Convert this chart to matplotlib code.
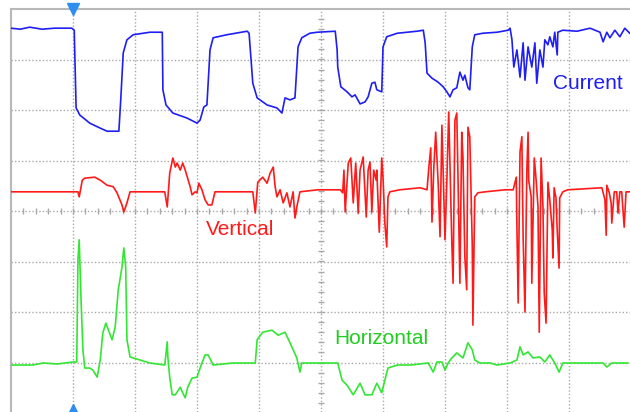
import matplotlib
matplotlib.use("Agg")
import matplotlib.pyplot as plt
import numpy as np

# scope traces, time and amplitude in screen divisions
t_current = [0, 0.15, 0.3, 0.5, 0.7, 0.98, 1.02, 1.05, 1.11, 1.27, 1.44, 1.55, 1.74, 1.77, 1.81, 1.87,
             1.97, 2.24, 2.44, 2.45, 2.50, 2.61, 2.84, 3.00, 3.05, 3.11, 3.16, 3.21, 3.26, 3.48,
             3.81, 3.84, 3.90, 3.97, 4.13, 4.29, 4.37, 4.42, 4.50, 4.58, 4.63, 4.69, 4.82, 4.94,
             5.23, 5.26, 5.27, 5.32, 5.42, 5.50, 5.55, 5.63, 5.71, 5.76, 5.82, 5.87, 5.90, 5.98,
             6.00, 6.06, 6.23, 6.55, 6.65, 6.68, 6.71, 6.79, 6.89, 6.97, 7.03, 7.08, 7.13, 7.19,
             7.24, 7.29, 7.32, 7.37, 7.40, 7.44, 7.48, 7.61, 7.84, 8.02, 8.05, 8.08, 8.11, 8.16,
             8.21, 8.26, 8.29, 8.34, 8.40, 8.45, 8.48, 8.53, 8.58, 8.61, 8.66, 8.69, 8.74, 8.77,
             8.81, 8.82, 8.90, 9.13, 9.34, 9.50, 9.55, 9.61, 9.66, 9.74, 9.82, 9.90, 9.98]
current = [3.62, 3.60, 3.64, 3.60, 3.62, 3.62, 3.58, 2.04, 1.90, 1.74, 1.64, 1.58, 1.58, 2.20, 3.13, 3.39,
           3.49, 3.54, 3.54, 2.40, 2.10, 1.94, 1.84, 1.74, 1.80, 2.06, 2.10, 3.19, 3.43, 3.49,
           3.56, 3.52, 2.53, 2.24, 2.10, 2.04, 1.94, 2.24, 2.20, 2.24, 3.25, 3.43, 3.52, 3.54,
           3.56, 3.19, 2.85, 2.46, 2.36, 2.26, 2.30, 2.12, 2.16, 2.26, 2.53, 2.55, 2.40, 2.36,
           3.25, 3.45, 3.52, 3.56, 3.58, 3.33, 2.73, 2.63, 2.55, 2.46, 2.36, 2.26, 2.40, 2.44,
           2.75, 2.59, 2.69, 2.44, 2.40, 3.25, 3.49, 3.52, 3.54, 3.58, 3.62, 3.39, 2.85, 3.19,
           2.65, 3.33, 2.59, 3.25, 2.85, 3.33, 2.53, 3.19, 2.85, 3.39, 3.29, 3.45, 3.25, 3.54,
           3.09, 3.54, 3.58, 3.56, 3.62, 3.54, 3.35, 3.54, 3.43, 3.58, 3.45, 3.62, 3.52]

t_vertical = [0, 0.5, 1.08, 1.10, 1.15, 1.19, 1.35, 1.44, 1.55, 1.65, 1.71, 1.79, 1.82, 1.87, 1.92,
              2.48, 2.52, 2.56, 2.61, 2.65, 2.68, 2.73, 2.77, 2.81, 2.89, 2.92, 2.97, 3.00, 3.03,
              3.08, 3.13, 3.18, 3.24, 3.29, 3.90, 3.94, 3.98, 4.06, 4.13, 4.18, 4.23, 4.26, 4.29,
              4.34, 4.39, 4.45, 4.50, 4.55, 4.58, 4.61, 4.66, 4.95, 5.31, 5.35, 5.37, 5.39, 5.44,
              5.48, 5.52, 5.56, 5.60, 5.63, 5.68, 5.73, 5.76, 5.79, 5.82, 5.85, 5.89, 5.90, 5.94,
              5.98, 6.00, 6.03, 6.06, 6.08, 6.11, 6.27, 6.60, 6.71, 6.74, 6.77, 6.79, 6.82, 6.85,
              6.89, 6.92, 6.95, 6.97, 7.00, 7.03, 7.06, 7.11, 7.13, 7.16, 7.19, 7.21, 7.24, 7.27,
              7.29, 7.32, 7.35, 7.37, 7.40, 7.44, 7.45, 7.48, 7.53, 7.65, 7.97, 8.10, 8.15, 8.16,
              8.18, 8.21, 8.24, 8.26, 8.29, 8.32, 8.34, 8.35, 8.39, 8.40, 8.44, 8.47, 8.50, 8.52,
              8.55, 8.58, 8.60, 8.63, 8.66, 8.69, 8.73, 8.74, 8.76, 8.79, 8.81, 8.84, 8.85, 8.90,
              8.98, 9.53, 9.58, 9.60, 9.61, 9.65, 9.68, 9.69, 9.73, 9.77, 9.79, 9.82, 9.85, 9.89,
              9.92, 9.98]
vertical = [0.38, 0.38, 0.38, 0.28, 0.61, 0.65, 0.67, 0.61, 0.51, 0.48, 0.36, 0.12, -0.02, 0.16, 0.38,
            0.38, 0.08, 0.75, 1.05, 0.87, 0.95, 0.81, 0.95, 0.81, 0.48, 0.32, 0.38, 0.36, 0.55,
            0.42, 0.22, 0.12, 0.12, 0.38, 0.38, -0.04, 0.57, 0.67, 0.55, 0.75, 0.87, 0.48, 0.28,
            0.42, 0.16, 0.36, 0.08, 0.38, -0.14, 0.08, 0.38, 0.42, 0.42, 0.36, 0.81, -0.02, 0.95,
            1.05, 0.16, 0.95, -0.04, 0.81, 1.07, -0.12, 0.81, 0.97, -0.02, 0.81, 0.61, 0.81, -0.42,
            1.05, 0.67, -0.24, -0.71, 0.28, 0.38, 0.42, 0.46, 0.42, 0.87, 1.25, -0.22, 0.87, 1.56,
            0.55, -0.51, 1.70, 0.77, -0.57, 0.61, 1.96, -0.63, -1.43, 1.80, 1.94, 0.65, -1.43, 1.56,
            1.05, -0.91, -1.56, 1.66, 1.47, -0.71, -2.26, 0.28, 0.36, 0.38, 0.42, 0.42, 0.67, -0.32,
            -1.82, 1.17, 1.47, -0.51, -2.00, 0.81, 1.56, 0.61, 0.28, -1.43, 1.05, 0.61, 0.08, -2.40,
            1.05, 0.08, -1.62, -2.22, 0.57, 0.22, -0.38, -0.93, 0.46, 0.26, -0.38, -1.13, 0.26, 0.38,
            0.42, 0.46, 0.22, -0.48, 0.51, 0.36, 0.16, -0.24, 0.38, 0.38, -0.04, 0.38, 0.38, -0.32,
            0.38, 0.38]

t_horizontal = [0, 0.35, 0.52, 0.75, 1.00, 1.06, 1.08, 1.10, 1.13, 1.16, 1.19, 1.27, 1.32, 1.39, 1.44,
                1.48, 1.53, 1.56, 1.63, 1.68, 1.73, 1.79, 1.82, 1.85, 1.87, 1.92, 2.08, 2.24, 2.48,
                2.52, 2.53, 2.56, 2.60, 2.65, 2.73, 2.77, 2.81, 2.85, 2.92, 3.00, 3.05, 3.13, 3.18,
                3.26, 3.58, 3.94, 3.97, 4.06, 4.21, 4.31, 4.42, 4.50, 4.61, 4.66, 4.69, 4.95, 5.27,
                5.34, 5.42, 5.52, 5.63, 5.71, 5.82, 5.90, 5.98, 6.03, 6.08, 6.23, 6.44, 6.73, 6.81,
                6.87, 6.95, 7.00, 7.05, 7.11, 7.19, 7.29, 7.37, 7.44, 7.48, 7.56, 7.73, 7.84, 8.05,
                8.16, 8.21, 8.26, 8.34, 8.42, 8.53, 8.61, 8.69, 8.77, 8.84, 8.90, 9.55, 9.61, 9.69,
                9.95]
horizontal = [-3.05, -3.05, -3.01, -3.03, -2.99, -2.99, -0.97, -0.57, -1.76, -2.75, -3.11, -3.11, -3.15, -3.29, -2.95,
              -2.42, -2.22, -2.32, -2.55, -2.30, -1.56, -1.11, -0.73, -1.11, -2.55, -2.89, -2.95, -3.01, -3.05,
              -2.59, -2.89, -3.29, -3.64, -3.64, -3.49, -3.60, -3.70, -3.49, -3.31, -3.29, -3.11, -2.85, -2.85,
              -3.05, -3.01, -3.01, -2.55, -2.40, -2.36, -2.46, -2.40, -2.61, -2.91, -3.19, -3.01, -3.01, -3.01,
              -3.35, -3.45, -3.64, -3.41, -3.64, -3.64, -3.41, -3.60, -3.35, -3.11, -3.05, -3.05, -3.01, -3.19,
              -2.99, -2.99, -3.15, -3.01, -2.91, -2.81, -2.91, -2.61, -2.75, -2.95, -3.01, -3.01, -3.05, -3.01,
              -2.95, -2.69, -2.85, -2.79, -2.91, -2.89, -2.99, -2.85, -3.01, -3.19, -3.01, -3.01, -3.09, -3.01,
              -3.01]

fig = plt.figure(figsize=(6.3, 4.12), dpi=100)
ax = fig.add_axes([11 / 630, 0, 619 / 630, 403 / 412])
ax.set_xlim(0, 619 / 62)
ax.set_ylim(4 - 403 / 50.5, 4)

grid_col = "#a9a9a9"
for gx in range(1, 10):
    ax.axvline(gx, color=grid_col, lw=1.0, ls=(0, (1, 1.5)), zorder=1)
for gy in range(-3, 4):
    ax.axhline(gy, color=grid_col, lw=1.0, ls=(0, (1, 1.5)), zorder=1)

# minor ticks on the centre lines
mx = np.arange(0.2, 10, 0.2)
ax.plot(mx, np.zeros_like(mx), ls="none", marker="|", ms=5, mew=1.0, color=grid_col, zorder=1)
my = np.arange(-3.8, 4, 0.2)
ax.plot(np.full_like(my, 5), my, ls="none", marker="_", ms=5, mew=1.0, color=grid_col, zorder=1)

ax.plot(t_current, current, color="#1e1ef5", lw=1.2, zorder=3)
ax.plot(t_vertical, vertical, color="#ff1a1a", lw=1.2, zorder=3)
ax.plot(t_horizontal, horizontal, color="#33e633", lw=1.2, zorder=3)

# trigger markers
ax.plot([1], [4], marker="v", ms=8, color="#2e8ef0", clip_on=False, zorder=4)
ax.plot([1], [4 - 401 / 50.5], marker="^", ms=8, color="#2e8ef0", clip_on=False, zorder=4)

font = ["Liberation Sans", "DejaVu Sans"]
ax.text(9.31, 2.53, "Current", color="#1e1ef5", fontsize=15, family=font, ha="center", va="center")
ax.text(3.69, -0.36, "Vertical", color="#ff1a1a", fontsize=15, family=font, ha="center", va="center")
ax.text(5.98, -2.53, "Horizontal", color="#22cc22", fontsize=15, family=font, ha="center", va="center")

for side in ["right", "bottom"]:
    ax.spines[side].set_visible(False)
for side in ["left", "top"]:
    ax.spines[side].set_color("#b8b8b8")
    ax.spines[side].set_linewidth(1.5)
ax.set_xticks([])
ax.set_yticks([])

fig.savefig("out.png", dpi=100)
